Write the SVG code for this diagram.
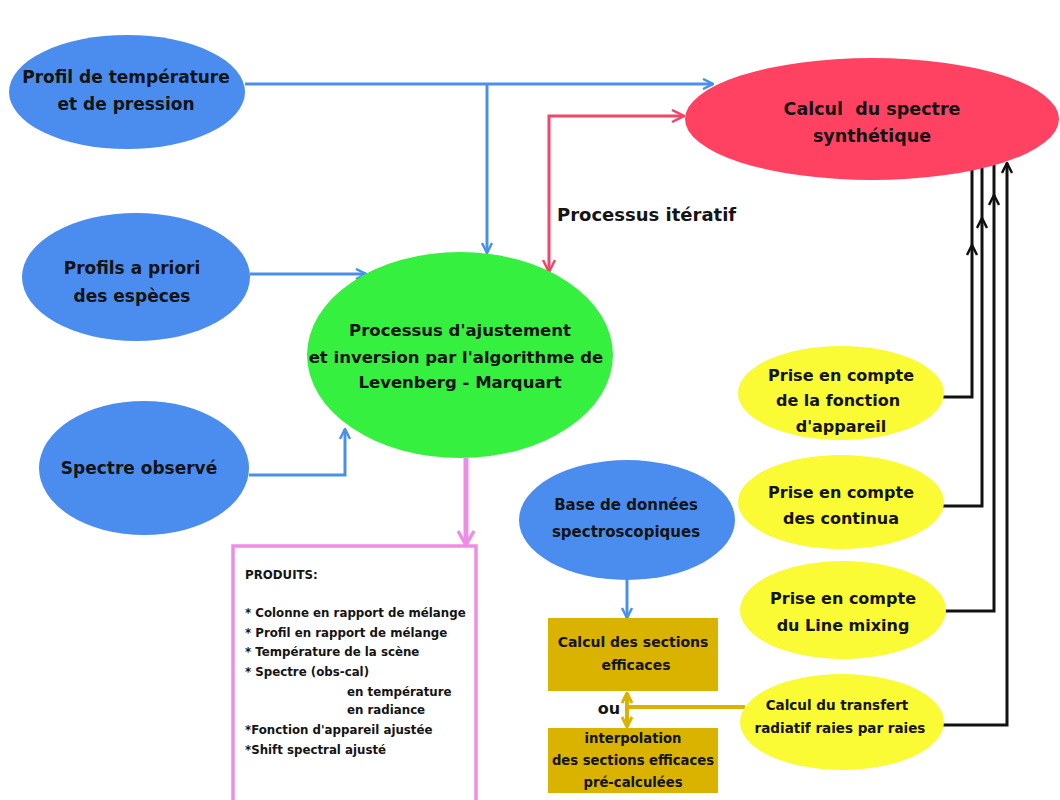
<svg xmlns="http://www.w3.org/2000/svg" width="1060" height="800" viewBox="0 0 1060 800">
<style>
text{font-family:"DejaVu Sans","Liberation Sans",sans-serif;font-weight:bold;fill:#141414;text-anchor:middle}
.blue{fill:#4B8DEF}
.yel{fill:#FAFA35}
.gold{fill:#D9B300}
.cb{fill:none;stroke:#4A90E8;stroke-width:3}
.cr{fill:none;stroke:#F2456A;stroke-width:3}
.ck{fill:none;stroke:#111;stroke-width:3}
.cg{fill:none;stroke:#D9B300;stroke-width:4}
.cp{fill:none;stroke:#EE8CE6;stroke-width:5}
.prod text{text-anchor:start;font-size:11.8px}
</style>
<defs>
<marker id="ab" viewBox="0 0 12 12" refX="11" refY="6" markerWidth="12" markerHeight="12" markerUnits="userSpaceOnUse" orient="auto-start-reverse"><path d="M1,1 L11,6 L1,11" fill="none" stroke="#4A90E8" stroke-width="2.5"/></marker>
<marker id="ar" viewBox="0 0 14 14" refX="13" refY="7" markerWidth="14" markerHeight="14" markerUnits="userSpaceOnUse" orient="auto-start-reverse"><path d="M1,1 L13,7 L1,13" fill="none" stroke="#F2456A" stroke-width="2.5"/></marker>
<marker id="ak" viewBox="0 0 12 12" refX="11" refY="6" markerWidth="12" markerHeight="12" markerUnits="userSpaceOnUse" orient="auto-start-reverse"><path d="M1,1 L11,6 L1,11" fill="none" stroke="#111" stroke-width="2.5"/></marker>
<marker id="ag" viewBox="0 0 12 12" refX="11" refY="6" markerWidth="12" markerHeight="12" markerUnits="userSpaceOnUse" orient="auto-start-reverse"><path d="M1,1 L11,6 L1,11" fill="none" stroke="#D9B300" stroke-width="3"/></marker>
<marker id="ap" viewBox="0 0 16 18" refX="15" refY="9" markerWidth="16" markerHeight="18" markerUnits="userSpaceOnUse" orient="auto"><path d="M1,1 L15,9 L1,17" fill="none" stroke="#EE8CE6" stroke-width="3.5"/></marker>
</defs>
<rect width="1060" height="800" fill="#fff"/>

<g id="connectors">
<path class="cb" d="M245,84 H713" marker-end="url(#ab)"/>
<path class="cb" d="M487,84 V253" marker-end="url(#ab)"/>
<path class="cb" d="M250,274 H366" marker-end="url(#ab)"/>
<path class="cb" d="M249,475 H345 V429" marker-end="url(#ab)"/>
<path class="cr" d="M549,272 V116 H684" marker-start="url(#ar)" marker-end="url(#ar)"/>
<path class="cp" d="M466,458 V545" marker-end="url(#ap)"/>
<path class="cb" d="M627,580 V618" marker-end="url(#ab)"/>
<path class="cg" d="M627,693 V727" marker-start="url(#ag)" marker-end="url(#ag)"/>
<path class="cg" d="M627,707 H745"/>
<path class="ck" d="M943,397 H972 V245" marker-end="url(#ak)"/>
<path class="ck" d="M972,245 V170"/>
<path class="ck" d="M943,506 H982 V218" marker-end="url(#ak)"/>
<path class="ck" d="M982,218 V168"/>
<path class="ck" d="M945,611 H994 V195" marker-end="url(#ak)"/>
<path class="ck" d="M994,195 V165"/>
<path class="ck" d="M943,725 H1007 V163" marker-end="url(#ak)"/>
<text x="557" y="221" style="text-anchor:start;font-size:18px">Processus itératif</text>
<text x="609" y="714" style="font-size:16px">ou</text>
</g>

<g id="n-temp">
<ellipse class="blue" cx="127" cy="92" rx="118" ry="57"/>
<text x="126" y="83" font-size="17">Profil de température</text>
<text x="126" y="110" font-size="17">et de pression</text>
</g>

<g id="n-apriori">
<ellipse class="blue" cx="136" cy="277" rx="114" ry="64"/>
<text x="132" y="274" font-size="17">Profils a priori</text>
<text x="132" y="302" font-size="17">des espèces</text>
</g>

<g id="n-obs">
<ellipse class="blue" cx="144" cy="468" rx="105" ry="67"/>
<text x="139" y="474" font-size="17">Spectre observé</text>
</g>

<g id="n-fit">
<ellipse cx="460" cy="355" rx="153" ry="103" fill="#36F040"/>
<text x="460" y="336" font-size="16.5">Processus d'ajustement</text>
<text x="456" y="363" font-size="16.5">et inversion par l'algorithme de</text>
<text x="460" y="388" font-size="16.5">Levenberg - Marquart</text>
</g>

<g id="n-synth">
<ellipse cx="872" cy="119" rx="187" ry="61" fill="#FF4262"/>
<text x="872" y="115" font-size="17.5" style="white-space:pre">Calcul  du spectre</text>
<text x="872" y="142" font-size="17.5">synthétique</text>
</g>

<g id="n-appareil">
<ellipse class="yel" cx="841" cy="393" rx="103" ry="47"/>
<text x="841" y="381" font-size="16">Prise en compte</text>
<text x="838" y="406" font-size="16">de la fonction</text>
<text x="841" y="432" font-size="16">d'appareil</text>
</g>

<g id="n-continua">
<ellipse class="yel" cx="841" cy="502" rx="103" ry="47"/>
<text x="841" y="498" font-size="16">Prise en compte</text>
<text x="841" y="524" font-size="16">des continua</text>
</g>

<g id="n-linemixing">
<ellipse class="yel" cx="843" cy="610" rx="103" ry="49"/>
<text x="843" y="604" font-size="16">Prise en compte</text>
<text x="843" y="631" font-size="16">du Line mixing</text>
</g>

<g id="n-transfert">
<ellipse class="yel" cx="842" cy="722" rx="102" ry="48"/>
<text x="837" y="710" font-size="13.5">Calcul du transfert</text>
<text x="840" y="733" font-size="13.5">radiatif raies par raies</text>
</g>

<g id="n-db">
<ellipse class="blue" cx="627" cy="520" rx="108" ry="60"/>
<text x="626" y="510" font-size="15">Base de données</text>
<text x="626" y="537" font-size="15">spectroscopiques</text>
</g>

<g id="n-sections">
<rect class="gold" x="548" y="618" width="170" height="73"/>
<text x="633" y="647" font-size="14">Calcul des sections</text>
<text x="636" y="670" font-size="14">efficaces</text>
</g>

<g id="n-interp">
<rect class="gold" x="548" y="728" width="170" height="65"/>
<text x="633" y="743" font-size="13.2">interpolation</text>
<text x="633" y="765" font-size="13.2">des sections efficaces</text>
<text x="633" y="787" font-size="13.2">pré-calculées</text>
</g>

<g id="n-produits" class="prod">
<rect x="233" y="546" width="243" height="262" fill="#fff" stroke="#EE8CE6" stroke-width="3.5"/>
<text x="245" y="579">PRODUITS:</text>
<text x="245" y="617">* Colonne en rapport de mélange</text>
<text x="245" y="637">* Profil en rapport de mélange</text>
<text x="245" y="656">* Température de la scène</text>
<text x="245" y="676">* Spectre (obs-cal)</text>
<text x="347" y="696">en température</text>
<text x="347" y="714">en radiance</text>
<text x="245" y="734">*Fonction d'appareil ajustée</text>
<text x="245" y="754">*Shift spectral ajusté</text>
</g>
</svg>
